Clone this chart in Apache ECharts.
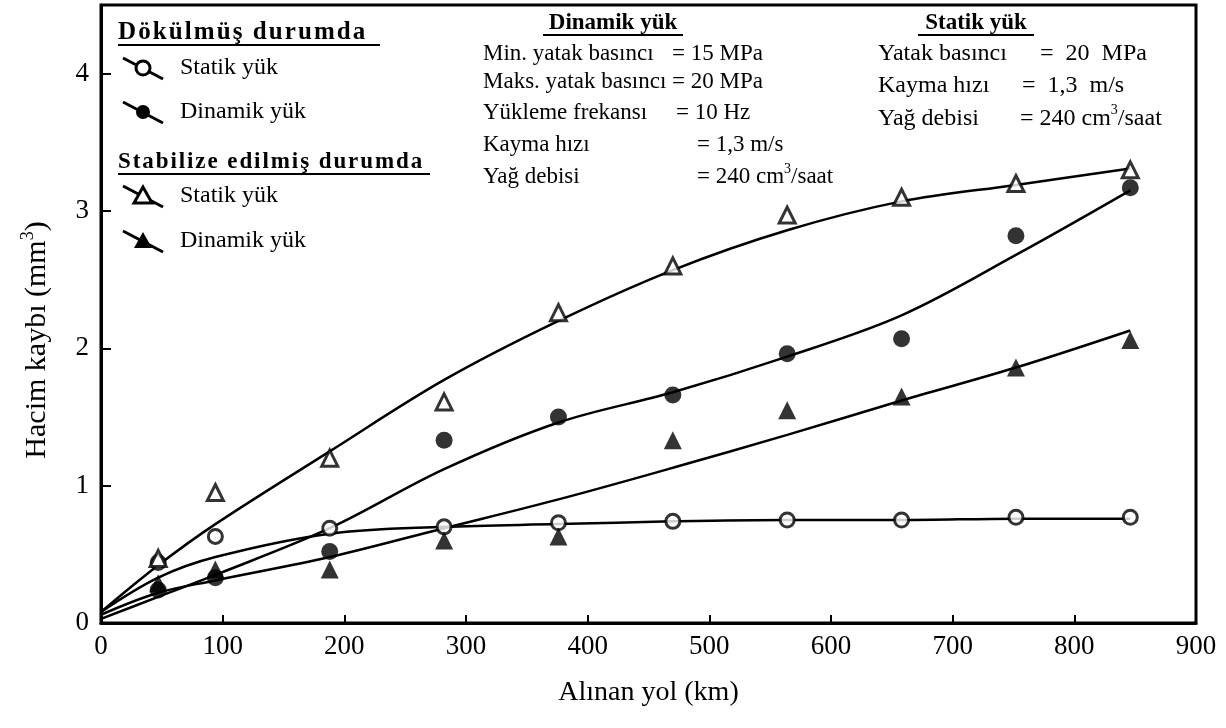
<!DOCTYPE html>
<html>
<head>
<meta charset="utf-8">
<title>Hacim kaybı – Alınan yol</title>
<script src="https://cdn.jsdelivr.net/npm/echarts@6/dist/echarts.min.js"></script>
<style>
  html, body { margin: 0; padding: 0; background: #fff; }
  #chart { width: 1226px; height: 728px; }
</style>
</head>
<body>
<div id="chart"></div>
<script>
// Test distances (km) at which the volume loss was measured
const distance = [47, 94, 188, 282, 376, 470, 564, 658, 752, 846];

// Measured volume loss (mm³)
const dokulmusStatik   = [0.44, 0.63, 0.69, 0.70, 0.73, 0.74, 0.75, 0.75, 0.77, 0.77];
const dokulmusDinamik  = [0.24, 0.33, 0.52, 1.33, 1.50, 1.66, 1.96, 2.07, 2.82, 3.17];
const stabilizeStatik  = [0.47, 0.95, 1.20, 1.61, 2.26, 2.60, 2.97, 3.10, 3.20, 3.30];
const stabilizeDinamik = [0.29, 0.39, 0.39, 0.60, 0.63, 1.33, 1.55, 1.65, 1.86, 2.06];

// Fitted trend curves
const curveDistance       = [0, 47, 94, 188, 282, 376, 470, 564, 658, 752, 846];
const fitDokulmusStatik   = [0.08, 0.33, 0.48, 0.65, 0.70, 0.72, 0.74, 0.75, 0.75, 0.76, 0.76];
const fitDokulmusDinamik  = [0.03, 0.19, 0.35, 0.69, 1.12, 1.46, 1.68, 1.94, 2.24, 2.68, 3.15];
const fitStabilizeStatik  = [0.08, 0.42, 0.72, 1.25, 1.77, 2.20, 2.57, 2.86, 3.07, 3.19, 3.31];
const fitStabilizeDinamik = [0.06, 0.22, 0.31, 0.48, 0.69, 0.90, 1.13, 1.37, 1.62, 1.86, 2.13];

// Axis ticks
const xTicks = [0, 100, 200, 300, 400, 500, 600, 700, 800, 900];
const yTicks = [0, 1, 2, 3, 4];

const FONT = "'Liberation Serif', 'Times New Roman', serif";
const HAIR = '\u200A';

const zip = (xs, ys) => xs.map((x, i) => [x, ys[i]]);
const spaced = s => s.split('').join(HAIR);

function pointSeries(name, values, symbol, filled, size) {
  return {
    name: name,
    type: 'scatter',
    data: zip(distance, values),
    symbol: symbol,
    symbolSize: size,
    z: 5,
    itemStyle: {
      color: filled ? '#000' : '#fff',
      borderColor: '#000',
      borderWidth: filled ? 0 : 3
    }
  };
}

function curveSeries(name, values) {
  return {
    name: name,
    type: 'line',
    data: zip(curveDistance, values),
    smooth: 0.35,
    showSymbol: false,
    z: 3,
    lineStyle: { color: '#000', width: 2.5 }
  };
}

// Legend rows: heading + two entries per group
const legendRows = [
  { y: 68,  symbol: 'circle',   filled: false, label: 'Statik yük' },
  { y: 112, symbol: 'circle',   filled: true,  label: 'Dinamik yük' },
  { y: 196, symbol: 'triangle', filled: false, label: 'Statik yük' },
  { y: 241, symbol: 'triangle', filled: true,  label: 'Dinamik yük' }
];

function legendIcon(row) {
  const cx = 143, cy = row.y;
  const children = [{
    type: 'line',
    shape: { x1: cx - 20, y1: cy - 10, x2: cx + 20, y2: cy + 11 },
    style: { stroke: '#000', lineWidth: 3 }
  }];
  const style = {
    fill: row.filled ? '#000' : '#fff',
    stroke: '#000',
    lineWidth: row.filled ? 0 : 3
  };
  if (row.symbol === 'circle') {
    children.push({ type: 'circle', shape: { cx: cx, cy: cy, r: 7 }, style: style });
  } else {
    children.push({
      type: 'polygon',
      shape: { points: [[cx, cy - 9], [cx - 9, cy + 7], [cx + 9, cy + 7]] },
      style: style
    });
  }
  return { type: 'group', children: children };
}

function text(x, y, str, opts) {
  opts = opts || {};
  return {
    type: 'text',
    x: x, y: y,
    z: 10,
    style: Object.assign({
      text: str,
      fill: '#000',
      fontFamily: FONT,
      fontSize: 23,
      align: 'left',
      verticalAlign: 'middle'
    }, opts)
  };
}

function underline(x1, x2, y) {
  return {
    type: 'line',
    z: 10,
    shape: { x1: x1, y1: y, x2: x2, y2: y },
    style: { stroke: '#000', lineWidth: 2 }
  };
}

function supRich(size) {
  return {
    n: { fontFamily: FONT, fontSize: size, lineHeight: size + 7 },
    s: { fontFamily: FONT, fontSize: Math.round(size * 0.6), lineHeight: size + 7, verticalAlign: 'top' }
  };
}

const graphics = [];

// Left legend
graphics.push(text(118, 33, spaced('Dökülmüş durumda'), { fontWeight: 'bold', fontSize: 25 }));
graphics.push(underline(118, 380, 45));
graphics.push(text(118, 162, spaced('Stabilize edilmiş durumda'), { fontWeight: 'bold', fontSize: 23 }));
graphics.push(underline(118, 430, 174));
legendRows.forEach(r => {
  graphics.push(legendIcon(r));
  graphics.push(text(180, r.y, r.label, { fontSize: 24 }));
});

// Dynamic-load test conditions
graphics.push(text(613, 23, 'Dinamik yük', { fontWeight: 'bold', align: 'center' }));
graphics.push(underline(543, 683, 35));
graphics.push(text(483, 54, 'Min. yatak basıncı'));
graphics.push(text(672, 54, '= 15 MPa'));
graphics.push(text(483, 82, 'Maks. yatak basıncı = 20 MPa'));
graphics.push(text(483, 113, 'Yükleme frekansı'));
graphics.push(text(676, 113, '= 10 Hz'));
graphics.push(text(483, 145, 'Kayma hızı'));
graphics.push(text(697, 145, '= 1,3 m/s'));
graphics.push(text(483, 177, 'Yağ debisi'));
graphics.push(text(697, 177, '{n|= 240 cm}{s|3}{n|/saat}', { rich: supRich(23) }));

// Static-load test conditions
graphics.push(text(976, 23, 'Statik yük', { fontWeight: 'bold', align: 'center' }));
graphics.push(underline(918, 1034, 35));
graphics.push(text(878, 54, 'Yatak basıncı', { fontSize: 24 }));
graphics.push(text(1040, 54, '=  20  MPa', { fontSize: 24 }));
graphics.push(text(878, 86, 'Kayma hızı', { fontSize: 24 }));
graphics.push(text(1022, 86, '=  1,3  m/s', { fontSize: 24 }));
graphics.push(text(878, 119, 'Yağ debisi', { fontSize: 24 }));
graphics.push(text(1020, 119, '{n|= 240 cm}{s|3}{n|/saat}', { rich: supRich(24) }));

const chart = echarts.init(document.getElementById('chart'), null, { renderer: 'canvas' });

chart.setOption({
  backgroundColor: '#fff',
  animation: false,
  grid: {
    left: 101, right: 30, top: 5, bottom: 105,
    show: true, borderColor: '#000', borderWidth: 3, backgroundColor: 'transparent'
  },
  xAxis: {
    type: 'value',
    min: xTicks[0], max: xTicks[xTicks.length - 1], interval: 100,
    name: 'Alınan yol (km)',
    nameLocation: 'middle',
    nameGap: 56,
    nameTextStyle: { fontFamily: FONT, fontSize: 28, color: '#000' },
    axisLine: { onZero: false, lineStyle: { color: '#000', width: 3 } },
    axisTick: { inside: true, length: 8, lineStyle: { color: '#000', width: 2 } },
    axisLabel: {
      fontFamily: FONT, fontSize: 27, color: '#000', margin: 10,
      formatter: v => xTicks.includes(v) ? String(v) : ''
    },
    splitLine: { show: false }
  },
  yAxis: {
    type: 'value',
    min: yTicks[0], max: 4.5, interval: 1,
    name: '{a|Hacim kaybı (mm}{s|3}{a|)}',
    nameLocation: 'middle',
    nameGap: 46,
    nameRotate: 90,
    nameTextStyle: {
      color: '#000',
      padding: [0, 52, 0, 0],
      rich: {
        a: { fontFamily: FONT, fontSize: 30, lineHeight: 36, color: '#000' },
        s: { fontFamily: FONT, fontSize: 18, lineHeight: 36, verticalAlign: 'top', color: '#000' }
      }
    },
    axisLine: { onZero: false, lineStyle: { color: '#000', width: 3 } },
    axisTick: { inside: true, length: 10, lineStyle: { color: '#000', width: 2 } },
    axisLabel: {
      fontFamily: FONT, fontSize: 27, color: '#000', margin: 12,
      formatter: v => yTicks.includes(v) ? String(v) : ''
    },
    splitLine: { show: false }
  },
  series: [
    curveSeries('Dökülmüş – Statik yük (eğri)', fitDokulmusStatik),
    curveSeries('Dökülmüş – Dinamik yük (eğri)', fitDokulmusDinamik),
    curveSeries('Stabilize – Statik yük (eğri)', fitStabilizeStatik),
    curveSeries('Stabilize – Dinamik yük (eğri)', fitStabilizeDinamik),
    pointSeries('Dökülmüş – Statik yük', dokulmusStatik, 'circle', false, 14),
    pointSeries('Dökülmüş – Dinamik yük', dokulmusDinamik, 'circle', true, 17),
    pointSeries('Stabilize – Statik yük', stabilizeStatik, 'triangle', false, 16),
    pointSeries('Stabilize – Dinamik yük', stabilizeDinamik, 'triangle', true, 18)
  ],
  graphic: graphics
});
</script>
</body>
</html>
